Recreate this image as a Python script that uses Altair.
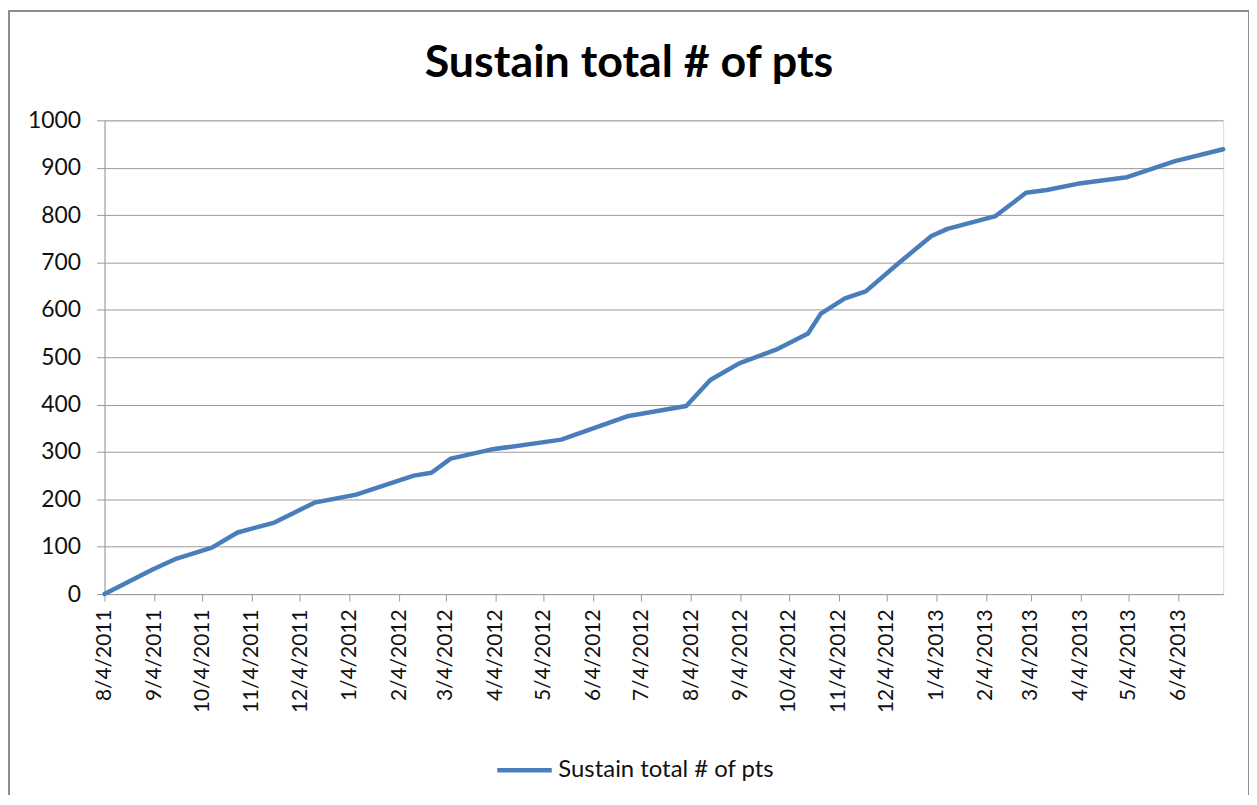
import altair as alt
import pandas as pd
from datetime import datetime

# ---- data ----
dates = [
    "2011-08-04", "2011-09-03", "2011-09-18", "2011-10-10", "2011-10-26",
    "2011-11-18", "2011-12-13", "2012-01-08", "2012-02-13", "2012-02-24",
    "2012-03-07", "2012-04-01", "2012-05-15", "2012-06-26", "2012-08-01",
    "2012-08-16", "2012-09-03", "2012-09-26", "2012-10-16", "2012-10-24",
    "2012-11-08", "2012-11-21", "2012-12-12", "2013-01-01", "2013-01-11",
    "2013-02-10", "2013-03-01", "2013-03-14", "2013-04-02", "2013-05-03",
    "2013-06-02", "2013-07-02",
]
values = [
    0, 52, 75, 98, 130,
    151, 193, 210, 250, 256,
    286, 305, 326, 376, 397,
    452, 487, 516, 550, 592,
    624, 639, 700, 756, 771,
    798, 847, 853, 866, 880,
    914, 939,
]
tick_labels = [
    "8/4/2011", "9/4/2011", "10/4/2011", "11/4/2011", "12/4/2011",
    "1/4/2012", "2/4/2012", "3/4/2012", "4/4/2012", "5/4/2012",
    "6/4/2012", "7/4/2012", "8/4/2012", "9/4/2012", "10/4/2012",
    "11/4/2012", "12/4/2012", "1/4/2013", "2/4/2013", "3/4/2013",
    "4/4/2013", "5/4/2013", "6/4/2013",
]
y_ticks = [0, 100, 200, 300, 400, 500, 600, 700, 800, 900, 1000]
series_name = "Sustain total # of pts"
title_text = "Sustain total # of pts"

FONT = "Lato"
W, H = 1124, 476


def to_dt(d):
    return alt.DateTime(year=d.year, month=d.month, date=d.day)


tick_values = [to_dt(datetime.strptime(t, "%m/%d/%Y")) for t in tick_labels]
first = datetime.strptime(dates[0], "%Y-%m-%d")
last = datetime.strptime(dates[-1], "%Y-%m-%d")

df = pd.DataFrame({
    "date": [d + "T00:00:00" for d in dates],
    "value": values,
    "series": series_name,
})

line = alt.Chart(df).mark_line(strokeWidth=4.5, strokeJoin="round", strokeCap="round").encode(
    x=alt.X(
        "date:T",
        scale=alt.Scale(domain=[to_dt(first), to_dt(last)], nice=False),
        axis=alt.Axis(
            values=tick_values,
            format="%-m/%-d/%Y",
            labelAngle=270,
            labelFont=FONT,
            labelFontSize=21,
            labelColor="#111111",
            labelPadding=8,
            tickSize=7,
            tickColor="#9a9a9a",
            domainColor="#9a9a9a",
            grid=False,
            title=None,
            labelOverlap=False,
            labelFlush=False,
        ),
    ),
    y=alt.Y(
        "value:Q",
        scale=alt.Scale(domain=[0, 1000], nice=False),
        axis=alt.Axis(
            values=y_ticks,
            format="d",
            labelFont=FONT,
            labelFontSize=23,
            labelColor="#111111",
            labelPadding=16,
            tickSize=8,
            tickColor="#9a9a9a",
            domainColor="#9a9a9a",
            gridColor="#9a9a9a",
            gridWidth=1,
            title=None,
            labelOverlap=False,
        ),
    ),
    color=alt.Color(
        "series:N",
        scale=alt.Scale(range=["#4a7ebb"]),
        legend=alt.Legend(
            title=None,
            orient="none",
            legendX=392,
            legendY=623,
            symbolType="stroke",
            symbolSize=3000,
            symbolStrokeWidth=4.5,
            labelFont=FONT,
            labelFontSize=24,
            labelColor="#111111",
            labelOffset=4,
            labelLimit=500,
            padding=0,
        ),
    ),
)

border = alt.Chart(pd.DataFrame({"k": [0]})).mark_rect(
    fill="transparent", stroke="#8c8c8c", strokeWidth=2
).encode(
    x=alt.value(-96), x2=alt.value(1150), y=alt.value(-110), y2=alt.value(700)
)

chart = alt.layer(border, line).properties(
    width=W,
    height=H,
    padding={"left": 97, "top": 111, "right": 26, "bottom": 200},
    autosize=alt.AutoSizeParams(type="none"),
    title=alt.TitleParams(
        title_text,
        font=FONT,
        fontSize=45,
        fontWeight="bold",
        color="#000000",
        anchor="middle",
        baseline="bottom",
        offset=-121,
        dx=-35,
    ),
).configure_view(stroke=None).configure(background="white")

chart.save("out.html", embed_options={"renderer": "svg", "actions": False})
